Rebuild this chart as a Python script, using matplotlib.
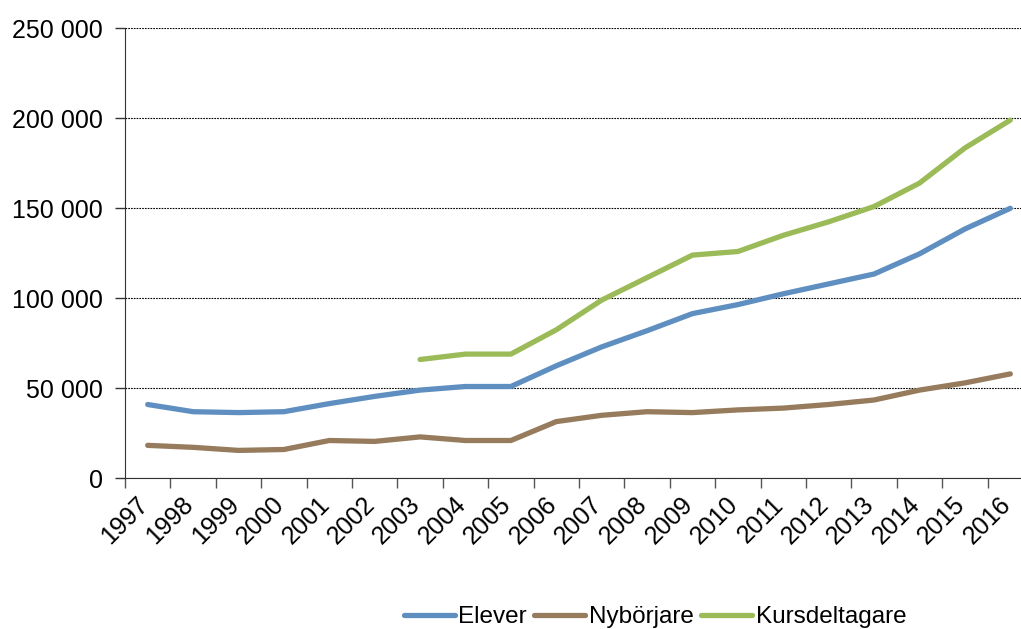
import matplotlib
matplotlib.use('Agg')
import matplotlib.pyplot as plt
import matplotlib.transforms as mtransforms
import numpy as np
from matplotlib.ticker import FuncFormatter, FixedLocator

plt.rcParams['font.family'] = ['Liberation Sans', 'DejaVu Sans']

years = [str(y) for y in range(1997, 2017)]

elever = [41000, 37000, 36500, 37000, 41500, 45500, 49000, 51000, 51000, 62500,
          73000, 82000, 91500, 96500, 102500, 108000, 113500, 124700, 138500, 150000]
nyborjare = [18300, 17200, 15500, 16000, 21000, 20500, 23000, 21000, 21000, 31500,
             35000, 37000, 36500, 38000, 39000, 41000, 43500, 49000, 53000, 58000]
kurs_years = [str(y) for y in range(2003, 2017)]
kursdeltagare = [66000, 69000, 69000, 82500, 99000, 111500, 124000, 126000,
                 135000, 142500, 151000, 164000, 183500, 199000]

c_elever = '#5f8fc0'
c_nyb = '#967b5c'
c_kurs = '#9bbb59'

fig = plt.figure(figsize=(10.21, 6.29), dpi=100)
# plot area runs a bit past the right edge of the picture, as in the original
ax = fig.add_axes([125/1021, 1 - 478.3/629, 908/1021, 450/629])

x = np.arange(len(years))
xk = np.array([years.index(y) for y in kurs_years])
lw = 3.8
ax.plot(x, elever, color=c_elever, lw=lw, label='Elever', solid_capstyle='round')
ax.plot(x, nyborjare, color=c_nyb, lw=lw, label='Nybörjare', solid_capstyle='round')
ax.plot(xk, kursdeltagare, color=c_kurs, lw=lw, label='Kursdeltagare', solid_capstyle='round')

ax.set_xlim(-0.5, len(years) - 0.5)
ax.set_ylim(0, 250000)
ax.set_yticks(np.arange(0, 250001, 50000))
ax.yaxis.set_major_formatter(FuncFormatter(lambda v, p: '0' if v == 0 else '{:,.0f}'.format(v).replace(',', ' ')))
ax.yaxis.grid(True, color='black', linestyle=(0, (1.5, 1)), linewidth=0.8)
ax.set_axisbelow(True)

ax.xaxis.set_major_locator(FixedLocator(np.arange(-0.5, len(years), 1)))
ax.xaxis.set_major_formatter(FuncFormatter(lambda v, p: ''))
ax.set_xticks(x, minor=True)
ax.set_xticklabels(years, minor=True, rotation=45, ha='right', va='top', fontsize=18)
ax.tick_params(axis='x', which='minor', length=0, pad=10)
ax.tick_params(axis='x', which='major', length=7, width=1, color='#555555', direction='out')
ax.tick_params(axis='y', length=7, width=1, color='#333333', labelsize=18, pad=9)

# nudge year labels a little to the right
shift = mtransforms.ScaledTranslation(5/100, 0, fig.dpi_scale_trans)
for lab in ax.get_xticklabels(minor=True):
    lab.set_transform(lab.get_transform() + shift)

for s in ['top', 'right']:
    ax.spines[s].set_visible(False)
ax.spines['left'].set_color('#333333')
ax.spines['bottom'].set_color('#333333')

fig.legend(loc='center', bbox_to_anchor=(655/1021, 1 - 617/629), ncol=3, frameon=False,
           fontsize=17.5, handlelength=2.1, handletextpad=0.15, columnspacing=0.3)

fig.savefig('out.png', dpi=100)
